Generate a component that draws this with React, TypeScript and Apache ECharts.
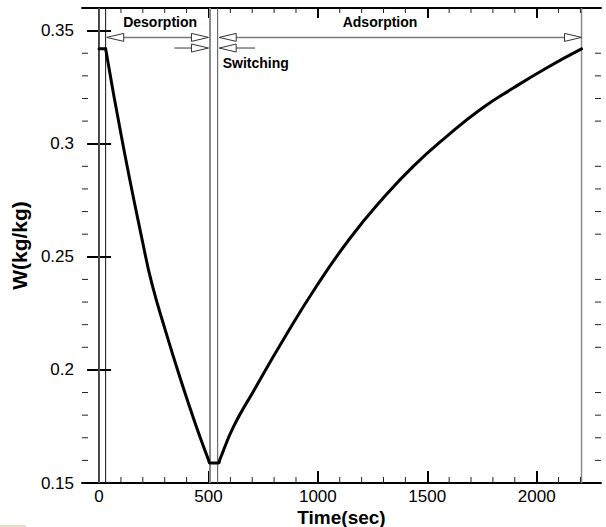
import React, { useEffect, useRef } from "react";
import * as echarts from "echarts";

// ---- data ----
const timeSec = [0, 30, 108, 200, 242, 303, 364, 440, 501, 507, 545, 552, 614, 705, 842, 995, 1147, 1300, 1436, 1589, 1741, 1893, 2045, 2205];
const uptakeW = [0.342, 0.342, 0.3002, 0.2561, 0.2379, 0.2175, 0.1984, 0.1762, 0.16, 0.1588, 0.1588, 0.1604, 0.1748, 0.1905, 0.2133, 0.2372, 0.2582, 0.2761, 0.29, 0.3032, 0.315, 0.3246, 0.3335, 0.3419];
// index where the initial hold (flat part) ends
const holdEndIndex = 1;

const xMajorTicks = [0, 500, 1000, 1500, 2000];
const xMinorTicks = [100, 200, 300, 400, 600, 700, 800, 900, 1100, 1200, 1300, 1400, 1600, 1700, 1800, 1900, 2100, 2200];
const yMajorTicks = [0.15, 0.2, 0.25, 0.3, 0.35];
const yMinorTicks = [0.16, 0.17, 0.18, 0.19, 0.21, 0.22, 0.23, 0.24, 0.26, 0.27, 0.28, 0.29, 0.31, 0.32, 0.33, 0.34];

const phaseBoundaries = [0, 30, 507, 542, 2205];

const arrowFrom = [35, 549, 344, 549];
const arrowTo = [500, 2205, 500, 713];
const arrowLevel = [0.347, 0.347, 0.3423, 0.3423];
const arrowHeadsAt = ["both", "both", "end", "start"];

const noteTexts = ["Desorption", "Adsorption", "Switching"];
const noteTime = [279, 1284, 565];
const noteLevel = [0.3537, 0.3537, 0.3355];

const X_MIN = -78;
const X_MAX = 2294;
const Y_MIN = 0.15;
const Y_MAX = 0.36;

const FONT = "'Liberation Sans', Arial, Helvetica, sans-serif";

const boundaryStyles = [
  { stroke: "#7a7a7a", lineWidth: 1.2 },
  { stroke: "#111111", lineWidth: 1 },
  { stroke: "#8a8a8a", lineWidth: 2 },
  { stroke: "#555555", lineWidth: 1 },
  { stroke: "#8a8a8a", lineWidth: 1.5 },
];

export default function App() {
  const ref = useRef<HTMLDivElement | null>(null);

  useEffect(() => {
    if (!ref.current) return;
    const chart = echarts.init(ref.current, null, { renderer: "svg" });

    const majorAxisTick = (vals: number[]) => ({
      show: true,
      inside: true,
      length: 12,
      customValues: vals,
      lineStyle: { color: "#000", width: 2 },
    });

    const axisLine = { show: true, lineStyle: { color: "#000", width: 2 } };
    const points = timeSec.map((t, i) => [t, uptakeW[i]]);
    const curveStyle = { color: "#000", width: 3, join: "round", cap: "round" };

    const option: any = {
      animation: false,
      backgroundColor: "#ffffff",
      grid: { left: 82, right: 5, top: 8, bottom: 44, containLabel: false, outerBoundsMode: "none" },
      xAxis: [
        {
          type: "value",
          position: "bottom",
          min: X_MIN,
          max: X_MAX,
          axisLine,
          axisTick: majorAxisTick(xMajorTicks),
          axisLabel: {
            customValues: xMajorTicks,
            formatter: (v: number) => String(v),
            color: "#000",
            fontSize: 17,
            lineHeight: 16,
            fontFamily: FONT,
            margin: 5.5,
          },
          splitLine: { show: false },
          name: "Time(sec)",
          nameLocation: "middle",
          nameGap: 24.5,
          nameMoveOverlap: false,
          nameTextStyle: { color: "#000", fontSize: 19, fontWeight: "bold", fontFamily: FONT, lineHeight: 19 },
        },
        {
          type: "value",
          position: "top",
          min: X_MIN,
          max: X_MAX,
          axisLine,
          axisTick: { ...majorAxisTick(xMajorTicks), length: 10 },
          axisLabel: { show: false },
          splitLine: { show: false },
        },
      ],
      yAxis: [
        {
          type: "value",
          position: "left",
          min: Y_MIN,
          max: Y_MAX,
          axisLine,
          axisTick: majorAxisTick(yMajorTicks),
          axisLabel: {
            customValues: yMajorTicks,
            formatter: (v: number) => String(v),
            color: "#000",
            fontSize: 17,
            fontFamily: FONT,
            margin: 8,
          },
          splitLine: { show: false },
          name: "W(kg/kg)",
          nameLocation: "middle",
          nameGap: 52,
          nameMoveOverlap: false,
          nameTextStyle: { color: "#000", fontSize: 21, fontWeight: "bold", fontFamily: FONT },
        },
        {
          type: "value",
          position: "right",
          min: Y_MIN,
          max: Y_MAX,
          axisLine,
          axisTick: majorAxisTick(yMajorTicks),
          axisLabel: { show: false },
          splitLine: { show: false },
        },
      ],
      graphic: [
        {
          type: "line",
          shape: { x1: 0, y1: 526, x2: 26, y2: 526 },
          style: { stroke: "#cdbf8c", lineWidth: 1 },
        },
      ],
      series: [
        {
          type: "custom",
          name: "phase boundaries",
          silent: true,
          data: phaseBoundaries.map((t) => [t, Y_MIN]),
          renderItem: (params: any, api: any) => {
            const cs = params.coordSys;
            const x = api.coord([api.value(0), Y_MIN])[0];
            return {
              type: "line",
              shape: { x1: x, y1: cs.y, x2: x, y2: cs.y + cs.height },
              style: boundaryStyles[params.dataIndex],
            };
          },
        },
        {
          type: "line",
          name: "W hold",
          data: points.slice(0, holdEndIndex + 1),
          showSymbol: false,
          symbol: "none",
          lineStyle: curveStyle,
          z: 5,
        },
        {
          type: "line",
          name: "W",
          data: points.slice(holdEndIndex),
          showSymbol: false,
          symbol: "none",
          smooth: 0.5,
          lineStyle: curveStyle,
          z: 5,
        },
        {
          type: "custom",
          name: "phase arrows",
          silent: true,
          z: 6,
          data: arrowFrom.map((s, i) => [s, arrowLevel[i], arrowTo[i]]),
          renderItem: (params: any, api: any) => {
            const i = params.dataIndex;
            const p1 = api.coord([api.value(0), api.value(1)]);
            const p2 = api.coord([api.value(2), api.value(1)]);
            const y = p1[1];
            const L = 17;
            const H = 4;
            const head = arrowHeadsAt[i];
            const hasStart = head === "both" || head === "start";
            const hasEnd = head === "both" || head === "end";
            const children: any[] = [];
            children.push({
              type: "line",
              shape: { x1: hasStart ? p1[0] + L : p1[0], y1: y, x2: hasEnd ? p2[0] - L : p2[0], y2: y },
              style: { stroke: "#7a7a7a", lineWidth: 1.5 },
            });
            const headStyle = { fill: "#ffffff", stroke: "#333333", lineWidth: 1 };
            if (hasStart) {
              children.push({
                type: "polygon",
                shape: { points: [[p1[0], y], [p1[0] + L, y - H], [p1[0] + L, y + H]] },
                style: headStyle,
              });
            }
            if (hasEnd) {
              children.push({
                type: "polygon",
                shape: { points: [[p2[0], y], [p2[0] - L, y - H], [p2[0] - L, y + H]] },
                style: headStyle,
              });
            }
            return { type: "group", children };
          },
        },
        {
          type: "custom",
          name: "phase labels",
          silent: true,
          z: 7,
          data: noteTime.map((t, i) => [t, noteLevel[i]]),
          renderItem: (params: any, api: any) => {
            const i = params.dataIndex;
            const p = api.coord([api.value(0), api.value(1)]);
            return {
              type: "text",
              x: p[0],
              y: p[1],
              style: {
                text: noteTexts[i],
                fill: "#000",
                fontSize: 14,
                fontWeight: "bold",
                fontFamily: FONT,
                align: i === 2 ? "left" : "center",
                verticalAlign: "middle",
              },
            };
          },
        },
        {
          type: "custom",
          name: "x minor ticks",
          silent: true,
          z: 8,
          data: xMinorTicks.map((t) => [t, Y_MIN]),
          renderItem: (params: any, api: any) => {
            const cs = params.coordSys;
            const x = api.coord([api.value(0), Y_MIN])[0];
            const st = { stroke: "#222", lineWidth: 1 };
            return {
              type: "group",
              children: [
                { type: "line", shape: { x1: x, y1: cs.y + cs.height, x2: x, y2: cs.y + cs.height - 6 }, style: st },
                { type: "line", shape: { x1: x, y1: cs.y, x2: x, y2: cs.y + 5 }, style: st },
              ],
            };
          },
        },
        {
          type: "custom",
          name: "y minor ticks",
          silent: true,
          z: 8,
          data: yMinorTicks.map((w) => [0, w]),
          renderItem: (params: any, api: any) => {
            const cs = params.coordSys;
            const y = api.coord([0, api.value(1)])[1];
            const st = { stroke: "#222", lineWidth: 1 };
            return {
              type: "group",
              children: [
                { type: "line", shape: { x1: cs.x, y1: y, x2: cs.x + 6, y2: y }, style: st },
                { type: "line", shape: { x1: cs.x + cs.width, y1: y, x2: cs.x + cs.width - 6, y2: y }, style: st },
              ],
            };
          },
        },
      ],
    };

    chart.setOption(option);
    return () => {
      chart.dispose();
    };
  }, []);

  return (
    <div
      ref={ref}
      style={{ position: "absolute", left: 0, top: 0, width: 606, height: 527 }}
    />
  );
}
